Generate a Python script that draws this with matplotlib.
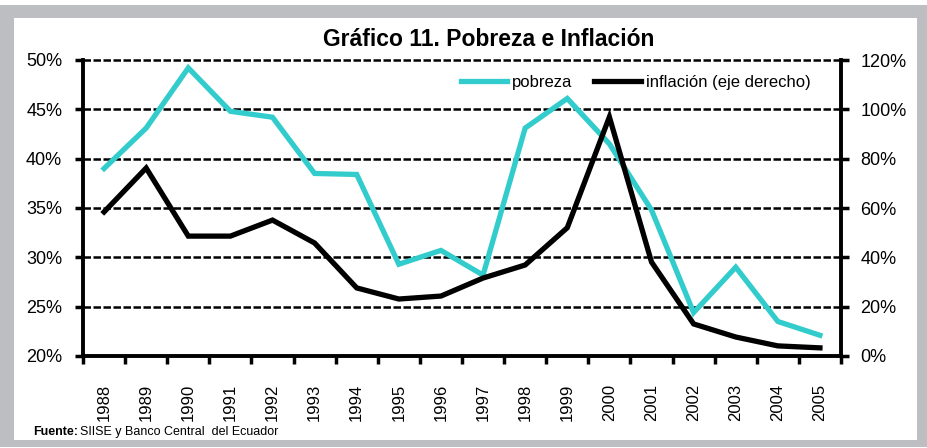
import matplotlib
matplotlib.use("Agg")
import matplotlib.pyplot as plt
from matplotlib.patches import Rectangle
from matplotlib.ticker import FixedLocator, PercentFormatter
import numpy as np

years = ["1988", "1989", "1990", "1991", "1992", "1993", "1994", "1995", "1996",
         "1997", "1998", "1999", "2000", "2001", "2002", "2003", "2004", "2005"]
pobreza = [39.0, 43.1, 49.2, 44.8, 44.2, 38.5, 38.4, 29.3, 30.7,
           28.2, 43.1, 46.1, 41.5, 34.8, 24.4, 29.0, 23.5, 22.1]
inflacion = [58.4, 76.2, 48.6, 48.6, 55.1, 45.8, 27.6, 23.1, 24.3,
             31.6, 36.9, 52.0, 96.9, 38.1, 13.0, 7.7, 4.1, 3.3]

plt.rcParams['font.family'] = ['Liberation Sans Narrow', 'Liberation Sans', 'DejaVu Sans']

W, H = 928, 448
fig = plt.figure(figsize=(W / 100, H / 100), dpi=100)

# gray frame with white panel, drawn in a background axes
bg = fig.add_axes([0, 0, 1, 1], zorder=-10)
bg.set_xlim(0, W)
bg.set_ylim(H, 0)
bg.axis("off")
bg.add_patch(Rectangle((0, 5), W, 442, facecolor="#bdbec2", edgecolor="none"))
bg.add_patch(Rectangle((14, 18), 903, 422, facecolor="white", edgecolor="none"))

ax = fig.add_axes([83 / W, 1 - 356 / H, (841 - 83) / W, (356 - 60) / H])
ax.patch.set_alpha(0)
ax2 = ax.twinx()

x = np.arange(len(years))
ln1, = ax.plot(x, pobreza, color="#33cccc", lw=3.8, solid_joinstyle="miter", zorder=3)
ln2, = ax2.plot(x, inflacion, color="black", lw=3.8, solid_joinstyle="miter", zorder=3)

ax.set_xlim(-0.5, len(years) - 0.5)
ax.set_ylim(20, 50)
ax2.set_ylim(0, 120)
ax.set_yticks(np.arange(20, 51, 5))
ax2.set_yticks(np.arange(0, 121, 20))
ax.yaxis.set_major_formatter(PercentFormatter(decimals=0))
ax2.yaxis.set_major_formatter(PercentFormatter(decimals=0))

ax.set_xticks(x)
ax.set_xticklabels(years, rotation=90, fontsize=12)
ax.xaxis.set_minor_locator(FixedLocator(np.arange(-0.5, len(years), 1)))
ax.tick_params(axis="x", which="major", length=0, pad=20)
ax.tick_params(axis="x", which="minor", length=6, width=2.5, direction="out")
ax.tick_params(axis="y", length=6, width=2.5, labelsize=13, pad=9)
ax2.tick_params(axis="y", length=6, width=2.5, labelsize=13, pad=8)

for a in (ax, ax2):
    a.spines["top"].set_visible(False)
    for s in ("left", "right", "bottom"):
        a.spines[s].set_linewidth(2.8)
ax.spines["right"].set_visible(False)
ax2.spines["left"].set_visible(False)
ax2.spines["bottom"].set_visible(False)

for yv in np.arange(25, 51, 5):
    ax.axhline(yv, color="black", lw=1.8, ls=(0, (3, 1)), zorder=1, clip_on=False)

fig.text(489 / W, 1 - 40 / H, "Gráfico 11. Pobreza e Inflación", ha="center", va="center",
         fontsize=16.5, fontweight="bold")

ax2.legend([ln1, ln2], ["pobreza", "inflación (eje derecho)"], ncol=2, frameon=False,
           loc="upper right", bbox_to_anchor=(0.98, 1.0), fontsize=12, handlelength=2.8,
           handletextpad=0.3, columnspacing=1.3)

fig.text(33 / W, 1 - 432 / H, "Fuente:", fontsize=9, fontweight="bold", va="center")
fig.text(80 / W, 1 - 432 / H, "SIISE y Banco Central  del Ecuador", fontsize=9, va="center")

fig.savefig("out.png", dpi=100)
